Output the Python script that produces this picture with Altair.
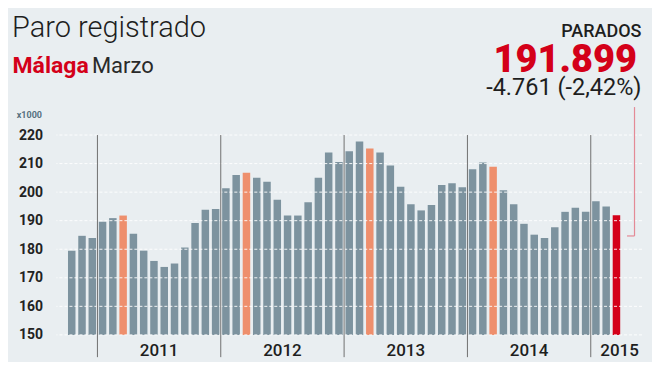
import altair as alt
import pandas as pd

# ---- data (thousands of registered unemployed, Málaga) ----
years_of_bars = [2010] * 3 + [2011] * 12 + [2012] * 12 + [2013] * 12 + [2014] * 12 + [2015] * 3
months_of_bars = [10, 11, 12] + list(range(1, 13)) * 4 + [1, 2, 3]
values = [
    179.5, 184.7, 183.9,
    189.6, 190.9, 191.8, 185.4, 179.5, 175.9, 173.8, 175.0, 180.6, 189.2, 193.8, 194.1,
    201.4, 206.0, 206.8, 205.0, 203.6, 197.3, 191.8, 191.8, 196.5, 205.0, 213.9, 210.6,
    214.3, 217.7, 215.3, 213.9, 209.3, 201.9, 195.8, 193.6, 195.5, 202.5, 203.1, 201.7,
    208.0, 210.4, 208.9, 200.7, 195.8, 188.9, 185.1, 183.9, 187.7, 193.1, 194.5, 193.1,
    196.8, 195.0, 191.899,
]
year_labels = ["2011", "2012", "2013", "2014", "2015"]
y_ticks = [150, 160, 170, 180, 190, 200, 210, 220]

BG = "#e9eef1"
GREY = "#7d939f"
ORANGE = "#ee8f6d"
RED = "#d40019"
FONT = "Roboto"

n = len(values)
kinds = []
for i in range(n):
    if i == n - 1:
        kinds.append("actual")
    elif months_of_bars[i] == 3:
        kinds.append("marzo")
    else:
        kinds.append("normal")

bars_df = pd.DataFrame({"i": list(range(n)), "value": values, "kind": kinds,
                        "year": years_of_bars, "month": months_of_bars})

# year separators: before every January
sep_pos = [i - 0.5 for i in range(n) if months_of_bars[i] == 1]
sep_df = pd.DataFrame({"x": sep_pos, "top": [220] * len(sep_pos), "bot": [142.2] * len(sep_pos)})

# year label centers
lab_pos = []
for y in year_labels:
    idx = [i for i in range(n) if years_of_bars[i] == int(y)]
    if len(idx) == 12:
        lab_pos.append((idx[0] + idx[-1]) / 2)
    else:
        lab_pos.append(idx[-1] + 0.3)
lab_df = pd.DataFrame({"x": lab_pos, "label": year_labels})
grid_df = pd.DataFrame({"v": y_ticks})

xscale = alt.Scale(domain=[-1, 55], nice=False, zero=False)
yscale = alt.Scale(domain=[150, 220], nice=False, zero=False)

yaxis = alt.Axis(values=y_ticks, title=None, domain=False, ticks=False, tickSize=0,
                 grid=False, labelPadding=14, labelFont=FONT, labelFontSize=14,
                 labelFontWeight="bold", labelColor="#222222",
                 labelOverlap=False, labelBound=False, labelFlush=False)

bars = alt.Chart(bars_df).mark_bar(size=7.5).encode(
    x=alt.X("i:Q", scale=xscale, axis=None),
    y=alt.Y("value:Q", scale=yscale, axis=yaxis),
    y2=alt.datum(150),
    color=alt.Color("kind:N", scale=alt.Scale(domain=["normal", "marzo", "actual"],
                                              range=[GREY, ORANGE, RED]), legend=None),
)

grid = alt.Chart(grid_df).mark_rule(color="white", strokeDash=[3, 2], strokeWidth=1,
                                     opacity=0.9).encode(
    y=alt.Y("v:Q", scale=yscale, axis=yaxis))

seps = alt.Chart(sep_df).mark_rule(color="#6f6f6f", strokeWidth=1, clip=False).encode(
    x=alt.X("x:Q", scale=xscale, axis=None),
    y=alt.Y("top:Q", scale=yscale, axis=yaxis),
    y2="bot:Q",
)

ylabels = alt.Chart(lab_df).mark_text(font=FONT, fontSize=17, fontWeight=500,
                                      color="#1e1e1e", baseline="middle").encode(
    x=alt.X("x:Q", scale=xscale, axis=None),
    y=alt.value(216),
    text="label:N",
)

def txt(s, x, y, size, color, weight="normal", align="left", baseline="alphabetic"):
    return alt.Chart(pd.DataFrame({"t": [s]})).mark_text(
        font=FONT, fontSize=size, fontWeight=weight, color=color, align=align,
        baseline=baseline).encode(x=alt.value(x), y=alt.value(y), text="t:N")

title = txt("Paro registrado", -44.5, -98, 29, "#1e1e1e", weight=300)
sub1 = txt("Málaga", -44, -62.5, 23, RED, weight="bold")
sub2 = txt("Marzo", 35.5, -62.5, 22, "#2a2a2a")
parados = txt("PARADOS", 585.5, -98, 18, "#1e1e1e", weight=500, align="right")
big = txt("191.899", 581, -63, 38, RED, weight=900, align="right")
delta = txt("-4.761 (-2,42%)", 585.5, -40, 23.5, "#1e1e1e", align="right")
x1000 = txt("x1000", -14.5, -20.5, 9, "#56707f", weight="bold", align="right", baseline="middle")

lead_v = alt.Chart(pd.DataFrame({"a": [0]})).mark_rule(color="#e48a96", strokeWidth=1.2).encode(
    x=alt.value(578.5), y=alt.value(-28), y2=alt.value(101))
lead_h = alt.Chart(pd.DataFrame({"a": [0]})).mark_rule(color="#e48a96", strokeWidth=1.2).encode(
    x=alt.value(571), x2=alt.value(578.5), y=alt.value(101))

chart = alt.layer(
    bars, grid, seps, ylabels, title, sub1, sub2, parados, big, delta, x1000, lead_v, lead_h
).properties(
    width=586, height=200,
    autosize=alt.AutoSizeParams(type="none"),
    padding={"left": 48.5, "top": 127, "right": 10, "bottom": 27},
    background=BG,
).configure_view(stroke=None)

chart.save("out.html", embed_options={"renderer": "svg", "actions": False})
